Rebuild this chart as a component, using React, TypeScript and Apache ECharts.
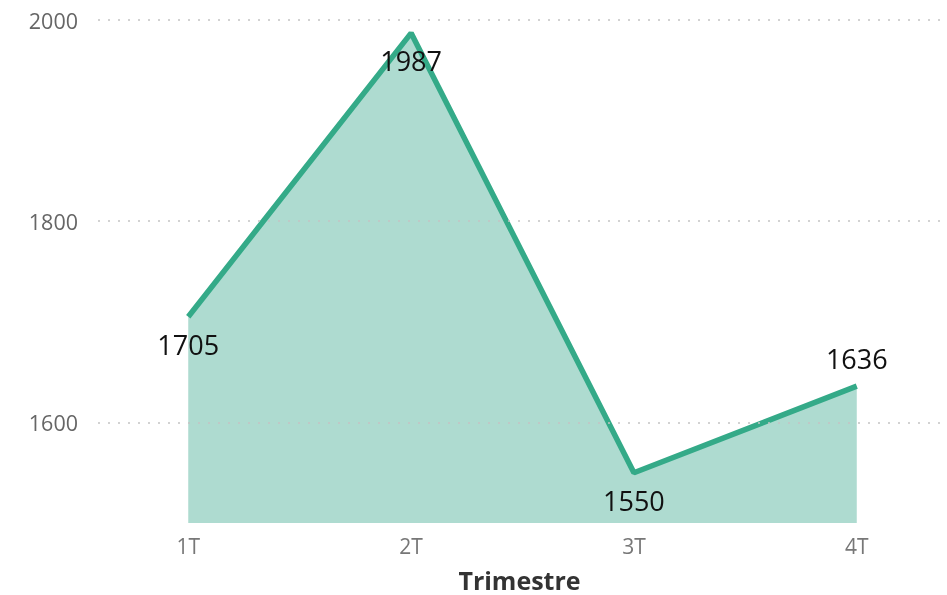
import React, { useEffect, useRef } from "react";
import * as echarts from "echarts";

const categories = ["1T", "2T", "3T", "4T"];
const values = [1705, 1987, 1550, 1636];
const labelPlacement = ["bottom", "bottom", "bottom", "top"];
const gridValues = [1600, 1800, 2000];
const axisTitle = "Trimestre";

const FONT = "'Open Sans', 'Noto Sans', sans-serif";

export default function App() {
  const ref = useRef<HTMLDivElement>(null);
  useEffect(() => {
    if (!ref.current) return;
    const chart = echarts.init(ref.current, undefined, { renderer: "svg" });
    chart.setOption({
      animation: false,
      grid: {
        left: 98,
        right: 6,
        top: 20,
        bottom: 72,
        containLabel: false,
        outerBoundsMode: "none",
      },
      xAxis: {
        type: "value",
        min: -0.405,
        max: 3.378,
        axisLine: { show: false },
        axisTick: { show: false },
        splitLine: { show: false },
        axisLabel: {
          customValues: categories.map((_, i) => i),
          formatter: (v: number) => categories[Math.round(v)] ?? "",
          color: "#777",
          fontSize: 21,
          fontFamily: FONT,
          margin: 12,
        },
        name: axisTitle,
        nameLocation: "middle",
        nameGap: 44,
        nameTextStyle: { color: "#333", fontSize: 25, fontWeight: "bold", fontFamily: FONT },
      },
      yAxis: {
        type: "value",
        min: 1500,
        max: 2000,
        interval: 100,
        axisLine: { show: false },
        axisTick: { show: false },
        splitLine: { show: false },
        axisLabel: {
          formatter: (v: number) => (gridValues.includes(v) ? String(v) : ""),
          color: "#666",
          fontSize: 21.5,
          fontFamily: FONT,
          margin: 20,
        },
      },
      series: [
        {
          type: "line",
          data: values.map((v, i) => ({
            value: [i, v],
            label: { position: labelPlacement[i] },
          })),
          symbol: "circle",
          symbolSize: 2,
          showSymbol: true,
          itemStyle: { color: "rgba(0,0,0,0)", borderWidth: 0 },
          lineStyle: { color: "#34AA88", width: 5.5 },
          areaStyle: { color: "#AEDBD0", opacity: 1 },
          label: {
            show: true,
            formatter: (p: any) => String(p.value[1]),
            color: "#111",
            fontSize: 27,
            fontFamily: FONT,
            distance: 13,
          },
          markLine: {
            silent: true,
            symbol: "none",
            label: { show: false },
            lineStyle: { color: "#c4c4c4", type: [2, 8], width: 1.5 },
            data: gridValues.map((g) => ({ yAxis: g })),
          },
          z: 2,
        },
      ],
    });
    return () => chart.dispose();
  }, []);
  return (
    <div
      ref={ref}
      style={{ position: "fixed", left: 0, top: 0, width: 947, height: 595 }}
    />
  );
}
